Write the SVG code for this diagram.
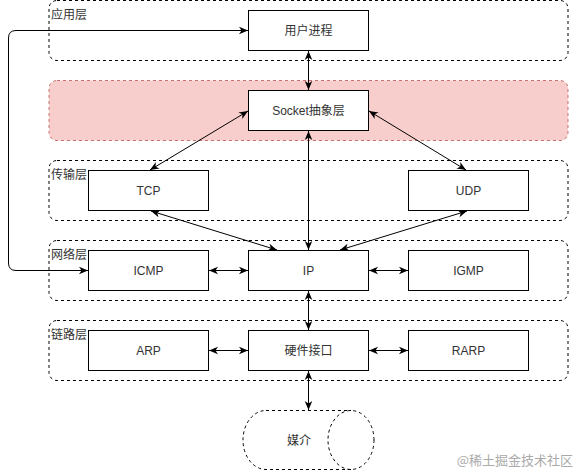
<svg xmlns="http://www.w3.org/2000/svg" width="577" height="471" viewBox="0 0 577 471">
<defs>
<marker id="arr" viewBox="0 0 10 10" refX="10" refY="5" markerWidth="9" markerHeight="9" markerUnits="userSpaceOnUse" orient="auto-start-reverse">
<path d="M0,0.8 L10,5 L0,9.2 L2.8,5 Z" fill="#000"/>
</marker>
<style>
.layer{fill:#fff;stroke:#000;stroke-width:1;stroke-dasharray:3 3}
.sock{fill:#f8cecc;stroke:#b85450;stroke-width:1;stroke-dasharray:3 3;stroke-opacity:0.8}
.box{fill:#fff;stroke:#000;stroke-width:1}
.lbl{font-family:"Liberation Sans","Noto Sans CJK SC",sans-serif;font-size:12px;fill:#333}
.c{text-anchor:middle}
.ln{fill:none;stroke:#000;stroke-width:1}
.ar{marker-end:url(#arr)}
.ar2{marker-start:url(#arr);marker-end:url(#arr)}
</style>
</defs>
<rect width="577" height="471" fill="#fff"/>
<g id="layer-app"><rect class="layer" x="49" y="0.5" width="519" height="60" rx="8"/><text class="lbl" x="51" y="19">应用层</text></g>
<g id="layer-socket"><rect class="sock" x="49" y="80.5" width="519" height="60" rx="8"/></g>
<g id="layer-transport"><rect class="layer" x="49" y="160.5" width="519" height="60" rx="8"/><text class="lbl" x="51" y="179">传输层</text></g>
<g id="layer-network"><rect class="layer" x="49" y="240.5" width="519" height="60" rx="8"/><text class="lbl" x="51" y="259">网络层</text></g>
<g id="layer-link"><rect class="layer" x="49" y="320.5" width="519" height="60" rx="8"/><text class="lbl" x="51" y="339">链路层</text></g>

<g id="n-user"><rect class="box" x="248.5" y="10.5" width="120" height="40"/><text class="lbl c" x="308.5" y="35">用户进程</text></g>
<g id="n-socket"><rect class="box" x="248.5" y="90.5" width="120" height="40"/><text class="lbl c" x="308.5" y="115">Socket抽象层</text></g>
<g id="n-tcp"><rect class="box" x="88.5" y="170.5" width="120" height="40"/><text class="lbl c" x="148.5" y="195">TCP</text></g>
<g id="n-udp"><rect class="box" x="408.5" y="170.5" width="120" height="40"/><text class="lbl c" x="468.5" y="195">UDP</text></g>
<g id="n-icmp"><rect class="box" x="88.5" y="250.5" width="120" height="40"/><text class="lbl c" x="148.5" y="275">ICMP</text></g>
<g id="n-ip"><rect class="box" x="248.5" y="250.5" width="120" height="40"/><text class="lbl c" x="308.5" y="275">IP</text></g>
<g id="n-igmp"><rect class="box" x="408.5" y="250.5" width="120" height="40"/><text class="lbl c" x="468.5" y="275">IGMP</text></g>
<g id="n-arp"><rect class="box" x="88.5" y="330.5" width="120" height="40"/><text class="lbl c" x="148.5" y="355">ARP</text></g>
<g id="n-hw"><rect class="box" x="248.5" y="330.5" width="120" height="40"/><text class="lbl c" x="308.5" y="355">硬件接口</text></g>
<g id="n-rarp"><rect class="box" x="408.5" y="330.5" width="120" height="40"/><text class="lbl c" x="468.5" y="355">RARP</text></g>
<g id="n-media">
<path d="M266,410.5 L351,410.5 M351,469.5 L266,469.5 A23,29.5 0 0 1 266,410.5" fill="none" stroke="#000" stroke-dasharray="3 3"/>
<ellipse cx="351" cy="440" rx="23" ry="29.5" fill="none" stroke="#000" stroke-dasharray="3 3"/>
<text class="lbl c" x="299" y="445">媒介</text>
</g>

<g id="connectors">
<path class="ln ar2" d="M308.5,51 L308.5,90"/>
<path class="ln ar2" d="M248,111 L150,170"/>
<path class="ln ar2" d="M369,111 L466,170"/>
<path class="ln ar2" d="M308.5,131 L308.5,250"/>
<path class="ln ar2" d="M151,211 L277,250"/>
<path class="ln ar2" d="M340,250 L467,211"/>
<path class="ln ar2" d="M209,270.5 L248,270.5"/>
<path class="ln ar2" d="M369,270.5 L408,270.5"/>
<path class="ln ar2" d="M308.5,291 L308.5,330"/>
<path class="ln ar2" d="M209,350.5 L248,350.5"/>
<path class="ln ar2" d="M369,350.5 L408,350.5"/>
<path class="ln ar2" d="M308.5,371 L308.5,410"/>
<path class="ln ar2" d="M88,270.5 L16,270.5 Q8.5,270.5 8.5,263 L8.5,38 Q8.5,30.5 16,30.5 L248,30.5"/>
</g>
<text x="573" y="465" font-family="'Noto Sans CJK SC',sans-serif" font-size="13" fill="#aaa" text-anchor="end">@稀土掘金技术社区</text>
</svg>
